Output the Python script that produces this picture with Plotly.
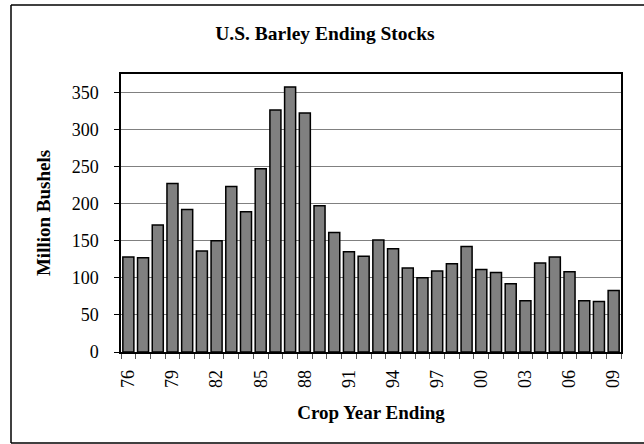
import plotly.graph_objects as go

years = [1976 + i for i in range(34)]
stocks = [128, 127, 171, 227, 192, 136, 150, 223, 189, 247, 326, 357,
          322, 197, 161, 135, 129, 151, 139, 113, 100, 109, 119, 142,
          111, 107, 92, 69, 120, 128, 108, 69, 68, 83]
tick_years = [1976, 1979, 1982, 1985, 1988, 1991, 1994, 1997, 2000, 2003, 2006, 2009]
tick_labels = ["76", "79", "82", "85", "88", "91", "94", "97", "00", "03", "06", "09"]
y_ticks = [0, 50, 100, 150, 200, 250, 300, 350]

FONT = "Liberation Serif, Times New Roman, serif"

W, H = 644, 444
L, R, T, B = 121, 23, 74, 92
pw, ph = W - L - R, H - T - B

fig = go.Figure()
fig.add_trace(go.Bar(
    x=years, y=stocks,
    marker=dict(color="#808080", line=dict(color="#000000", width=1.5)),
))

fig.update_layout(
    width=W, height=H,
    margin=dict(l=L, r=R, t=T, b=B, pad=0),
    paper_bgcolor="white", plot_bgcolor="white",
    bargap=0.25,
    showlegend=False,
    font=dict(family=FONT, color="black"),
    title=dict(text="<b>U.S. Barley Ending Stocks</b>", x=325 / W, xanchor="center",
               y=1 - 33 / H, yanchor="middle", font=dict(size=19.5, family=FONT)),
    xaxis=dict(
        range=[1975.5, 2009.5],
        tickmode="array", tickvals=tick_years, ticktext=tick_labels,
        tickangle=-90, ticks="outside", ticklen=0,
        tickfont=dict(size=18, family=FONT),
        ticklabelstandoff=9,
        showline=True, linecolor="black", linewidth=1.5, mirror=True,
        showgrid=False, zeroline=False,
        minor=dict(tickmode="array", tickvals=[1975.5 + i for i in range(35)],
                   ticks="outside", ticklen=5, tickcolor="#555555", tickwidth=1, showgrid=False),
        title=dict(text="<b>Crop Year Ending</b>", font=dict(size=19, family=FONT), standoff=19),
    ),
    yaxis=dict(
        range=[0, 350 * 1.07],
        tickmode="array", tickvals=y_ticks,
        ticks="outside", ticklen=5, tickcolor="black",
        tickfont=dict(size=18, family=FONT),
        ticklabelstandoff=12,
        showline=True, linecolor="black", linewidth=1.5, mirror=True,
        showgrid=True, gridcolor="#808080", gridwidth=1,
        zeroline=False,
        title=dict(text="<b>Million Bushels</b>", font=dict(size=19, family=FONT), standoff=16),
    ),
    shapes=[dict(type="line", xref="paper", yref="paper",
                 x0=(11 - L) / pw, x1=(11 - L) / pw,
                 y0=(H - B - 443) / ph, y1=(H - B - 5) / ph,
                 line=dict(color="black", width=1.5)),
            dict(type="line", xref="paper", yref="paper",
                 x0=(11 - L) / pw, x1=(W - L) / pw,
                 y0=(H - B - 5) / ph, y1=(H - B - 5) / ph,
                 line=dict(color="black", width=1.5)),
            dict(type="line", xref="paper", yref="paper",
                 x0=(11 - L) / pw, x1=(W - L) / pw,
                 y0=(H - B - 443) / ph, y1=(H - B - 443) / ph,
                 line=dict(color="black", width=1.5))],
)

fig.write_html("out.html",
               config={"displayModeBar": False},
               post_script="document.body.style.margin='0';document.body.style.overflow='hidden';"
                           "document.documentElement.style.overflow='hidden';")
